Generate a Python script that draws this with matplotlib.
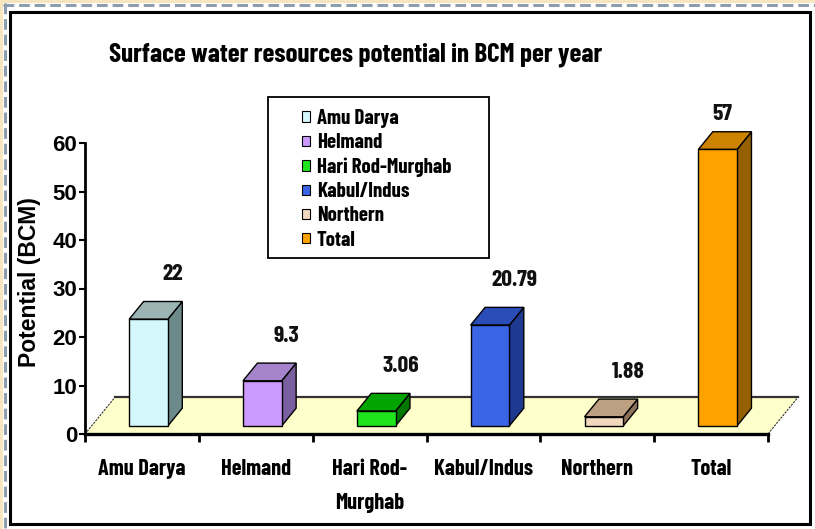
import matplotlib
matplotlib.use("Agg")
import matplotlib.pyplot as plt
from matplotlib.patches import Polygon, Rectangle, Patch
from matplotlib.lines import Line2D
from matplotlib import font_manager

# data
basins = ["Amu Darya", "Helmand", "Hari Rod-Murghab", "Kabul/Indus", "Northern", "Total"]
tick_labels = ["Amu Darya", "Helmand", "Hari Rod-\nMurghab", "Kabul/Indus", "Northern", "Total"]
values = [22, 9.3, 3.06, 20.79, 1.88, 57]
value_text = ["22", "9.3", "3.06", "20.79", "1.88", "57"]

# colours: front, top, side
front_cols = ["#d4f8fb", "#cc99ff", "#1ee41e", "#3a66e6", "#f2d8bc", "#ffa200"]
top_cols = ["#9cb4b4", "#a584cc", "#00a400", "#2a4db8", "#bd9f82", "#cc8400"]
side_cols = ["#6c8a8a", "#7a5fa0", "#007800", "#1e3a90", "#8c7058", "#946000"]

W, H = 815, 529


def fx(px):
    return px / W


def fy(py):
    return 1 - py / H


names = {f.name for f in font_manager.fontManager.ttflist}
narrow = "Liberation Sans"
for cand in ["Barlow Condensed", "Liberation Sans Narrow", "Barlow Semi Condensed", "Asap Condensed"]:
    if cand in names:
        narrow = cand
        break
plain = "Liberation Sans"

fig = plt.figure(figsize=(W / 100, H / 100), dpi=100)
fig.patch.set_facecolor("white")

# page decoration: cream strip + dashed border, black frame
fig.patches.append(Rectangle((0, fy(3)), 1, fy(0) - fy(3), transform=fig.transFigure,
                             facecolor="#f7e5bf", edgecolor="none", zorder=-2))
fig.patches.append(Rectangle((0, 0), fx(3), 1, transform=fig.transFigure,
                             facecolor="#f7e5bf", edgecolor="none", zorder=-2))
fig.lines.append(Line2D([fx(3), 1], [fy(5), fy(5)], transform=fig.transFigure,
                        color="#8e9dab", lw=2.2, dashes=(3.5, 1.6), zorder=-1))
fig.lines.append(Line2D([fx(5), fx(5)], [fy(3), 0], transform=fig.transFigure,
                        color="#8e9dab", lw=2.2, dashes=(3.5, 1.6), zorder=-1))
fig.patches.append(Rectangle((fx(10), fy(524)), fx(810) - fx(10), fy(12) - fy(524),
                             transform=fig.transFigure, facecolor="none",
                             edgecolor="black", lw=2.2, zorder=-1))
# legend box
fig.patches.append(Rectangle((fx(268), fy(258)), fx(489) - fx(268), fy(97) - fy(258),
                             transform=fig.transFigure, facecolor="white",
                             edgecolor="black", lw=1.3, zorder=-1))

ax = fig.add_axes([fx(85), fy(434), (768 - 85) / W, (434 - 143) / H])
ax.set_xlim(-0.5, 5.5)
ax.set_ylim(0, 60)
ax.patch.set_visible(False)

# 3d-ish depth of the floor, in data units
dx, dy = 0.264, 7.6
f0, f1 = 0.22, 0.70
bw = 0.34

floor = Polygon([(-0.5, 0), (5.5, 0), (5.5 + dx, dy), (-0.5 + dx, dy)], closed=True,
                facecolor="#ffffcc", edgecolor="none", clip_on=False, zorder=1)
ax.add_patch(floor)
ax.plot([-0.5 + dx, 5.5 + dx], [dy, dy], color="#333333", lw=1.6, clip_on=False, zorder=1.5)
ax.plot([-0.5, -0.5 + dx], [0, dy], color="#333333", lw=0.8, ls=(0, (2, 1)), clip_on=False, zorder=1.5)
ax.plot([5.5, 5.5 + dx], [0, dy], color="#333333", lw=0.8, ls=(0, (2, 1)), clip_on=False, zorder=1.5)

ddx, ddy = (f1 - f0) * dx, (f1 - f0) * dy
for i, v in enumerate(values):
    x0 = i - bw / 2 + f0 * dx
    x1 = i + bw / 2 + f0 * dx
    y0 = f0 * dy
    y1 = v + f0 * dy
    side = Polygon([(x1, y0), (x1 + ddx, y0 + ddy), (x1 + ddx, y1 + ddy), (x1, y1)],
                   facecolor=side_cols[i], edgecolor="black", lw=1, clip_on=False, zorder=3)
    top = Polygon([(x0, y1), (x1, y1), (x1 + ddx, y1 + ddy), (x0 + ddx, y1 + ddy)],
                  facecolor=top_cols[i], edgecolor="black", lw=1, clip_on=False, zorder=3)
    front = Polygon([(x0, y0), (x1, y0), (x1, y1), (x0, y1)],
                    facecolor=front_cols[i], edgecolor="black", lw=1, clip_on=False, zorder=4)
    ax.add_patch(side)
    ax.add_patch(top)
    ax.add_patch(front)

    ly = v + 11
    lx = i + 0.27
    if ly > 66:
        ly = 66
        lx = i + 0.1
    ax.text(lx, ly, value_text[i], ha="center", va="center", fontsize=17,
            fontfamily=narrow, fontweight="bold", color="#111111", zorder=6)

# axes styling
for s in ["top", "right"]:
    ax.spines[s].set_visible(False)
ax.spines["left"].set_linewidth(2)
ax.spines["bottom"].set_linewidth(2.4)
ax.spines["bottom"].set_zorder(5)

ax.set_yticks(range(0, 61, 10))
ax.tick_params(axis="y", length=4, width=1.5, pad=1.5, labelsize=16)
for t in ax.get_yticklabels():
    t.set_fontfamily(plain)
    t.set_fontweight("bold")

ax.set_xticks([i - 0.5 for i in range(7)])
ax.set_xticklabels([])
ax.tick_params(axis="x", which="major", length=6, width=2, direction="out")
ax.set_xticks(range(6), minor=True)
ax.set_xticklabels(tick_labels, minor=True)
ax.tick_params(axis="x", which="minor", length=0, pad=18, labelsize=16)
for t in ax.get_xticklabels(minor=True):
    t.set_fontfamily(narrow)
    t.set_fontweight("bold")
    t.set_linespacing(1.85)

ax.set_ylabel("Potential (BCM)", fontsize=16.5, fontweight="bold", fontfamily=plain)
ax.yaxis.set_label_coords((41 - 85) / 683, (434 - 282) / 291)

fig.text(fx(356), fy(55), "Surface water resources potential in BCM per year",
         ha="center", va="center", fontsize=19.5, fontfamily=narrow, fontweight="bold")

# legend
handles = [Patch(facecolor=c, edgecolor="black", lw=0.8, label=n)
           for c, n in zip(front_cols, basins)]
leg = fig.legend(handles=handles, loc="upper left", bbox_to_anchor=(fx(302), fy(109)),
                 frameon=False, borderpad=0, borderaxespad=0,
                 handlelength=0.38, handleheight=0.38, handletextpad=0.33,
                 labelspacing=0.25,
                 prop={"family": narrow, "weight": "bold", "size": 15})
leg.set_zorder(6)

fig.savefig("out.png", dpi=100)
